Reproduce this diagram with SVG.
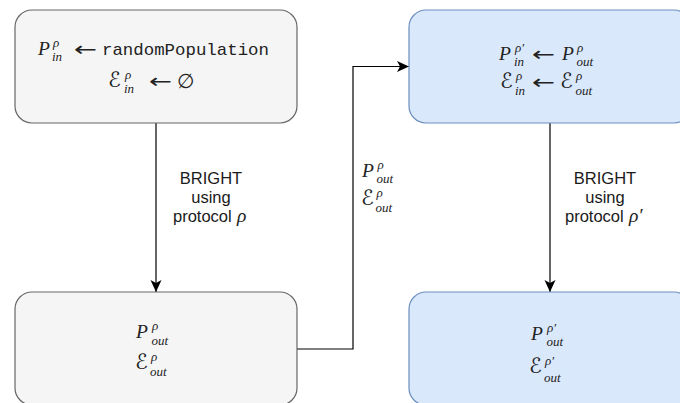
<svg xmlns="http://www.w3.org/2000/svg" width="680" height="403" viewBox="0 0 680 403">
  <style>
    .gray { fill: #f5f5f5; stroke: #666666; stroke-width: 1.2; }
    .blue { fill: #dae8fc; stroke: #6c8ebf; stroke-width: 1.2; }
    .edge { fill: none; stroke: #000000; stroke-width: 1.2; }
    .m { font-family: "Liberation Serif", "DejaVu Serif", serif; font-style: italic; font-size: 19.5px; fill: #222222; }
    .s { font-family: "Liberation Serif", "DejaVu Serif", serif; font-style: italic; font-size: 13px; fill: #222222; }
    .cal { font-family: "DejaVu Serif", "DejaVu Sans", serif; font-style: italic; font-size: 21px; fill: #222222; }
    .op { font-family: "DejaVu Sans", sans-serif; font-style: normal; font-size: 20px; fill: #222222; }
    .tt { font-family: "Liberation Mono", monospace; font-size: 17px; fill: #222222; }
    .lbl { font-family: "Liberation Sans", Arial, sans-serif; font-size: 16.5px; fill: #1a1a1a; }
    .mid { text-anchor: middle; }
  </style>
  <defs>
    <marker id="arrow" markerUnits="userSpaceOnUse" markerWidth="14" markerHeight="14" refX="12" refY="6" orient="auto">
      <path d="M0,0.5 L12,6 L0,11.5 L3,6 Z" fill="#000000"/>
    </marker>
  </defs>

  <!-- connectors -->
  <g id="connectors">
    <path class="edge" d="M156 123 V292" marker-end="url(#arrow)"/>
    <path class="edge" d="M297 349 H353 V66.5 H409" marker-end="url(#arrow)"/>
    <path class="edge" d="M550 123 V292" marker-end="url(#arrow)"/>
    <!-- label on the first BRIGHT run -->
    <text class="lbl mid" x="211" y="184">BRIGHT</text>
    <text class="lbl mid" x="211" y="203">using</text>
    <text class="lbl" x="173" y="222">protocol</text>
    <text class="m" x="237" y="222">ρ</text>
    <!-- label on the hand-over edge -->
    <text class="m" x="362" y="176.5">P</text>
    <text class="s" x="377.5" y="168.5">ρ</text>
    <text class="s" x="376.5" y="183">out</text>
    <text class="cal" x="361" y="205">ℰ</text>
    <text class="s" x="376.5" y="196.5">ρ</text>
    <text class="s" x="375.5" y="212">out</text>
    <!-- label on the second BRIGHT run -->
    <text class="lbl mid" x="605" y="184">BRIGHT</text>
    <text class="lbl mid" x="605" y="203">using</text>
    <text class="lbl" x="565" y="222">protocol</text>
    <text class="m" x="629" y="222">ρ′</text>
  </g>

  <!-- initial population -->
  <g id="init">
    <rect class="gray" x="15" y="10" width="282" height="113" rx="17" ry="17"/>
    <text class="m" x="38" y="55">P</text>
    <text class="s" x="53" y="47">ρ</text>
    <text class="s" x="52" y="61">in</text>
    <text class="op" x="74" y="56" textLength="23" lengthAdjust="spacingAndGlyphs">←</text>
    <text class="tt" x="102" y="55" textLength="167" lengthAdjust="spacingAndGlyphs">randomPopulation</text>
    <text class="cal" x="108" y="87">ℰ</text>
    <text class="s" x="125" y="79">ρ</text>
    <text class="s" x="124" y="93">in</text>
    <text class="op" x="149" y="88" textLength="23" lengthAdjust="spacingAndGlyphs">←</text>
    <text class="op" x="177" y="88">∅</text>
  </g>

  <!-- result of first protocol -->
  <g id="out-rho">
    <rect class="gray" x="15" y="292" width="282" height="113" rx="17" ry="17"/>
    <text class="m" x="136" y="338">P</text>
    <text class="s" x="152" y="330">ρ</text>
    <text class="s" x="151.5" y="344.5">out</text>
    <text class="cal" x="135" y="369">ℰ</text>
    <text class="s" x="151" y="360.5">ρ</text>
    <text class="s" x="150" y="375.5">out</text>
  </g>

  <!-- seeded population for second protocol -->
  <g id="init-rho-prime">
    <rect class="blue" x="409" y="10" width="282" height="113" rx="17" ry="17"/>
    <text class="m" x="499" y="59.5">P</text>
    <text class="s" x="515" y="51.5">ρ′</text>
    <text class="s" x="514" y="65.5">in</text>
    <text class="op" x="532" y="60.5" textLength="23" lengthAdjust="spacingAndGlyphs">←</text>
    <text class="m" x="562" y="59.5">P</text>
    <text class="s" x="577" y="51.5">ρ</text>
    <text class="s" x="576.5" y="66">out</text>
    <text class="cal" x="500" y="88">ℰ</text>
    <text class="s" x="516" y="80">ρ</text>
    <text class="s" x="515" y="94.5">in</text>
    <text class="op" x="532" y="89" textLength="23" lengthAdjust="spacingAndGlyphs">←</text>
    <text class="cal" x="560" y="88">ℰ</text>
    <text class="s" x="576" y="80">ρ</text>
    <text class="s" x="575.5" y="95">out</text>
  </g>

  <!-- result of second protocol -->
  <g id="out-rho-prime">
    <rect class="blue" x="409" y="292" width="282" height="113" rx="17" ry="17"/>
    <text class="m" x="531" y="340">P</text>
    <text class="s" x="547" y="331.5">ρ′</text>
    <text class="s" x="546.5" y="346">out</text>
    <text class="cal" x="529" y="373">ℰ</text>
    <text class="s" x="545" y="364.5">ρ′</text>
    <text class="s" x="544" y="381.5">out</text>
  </g>
</svg>
